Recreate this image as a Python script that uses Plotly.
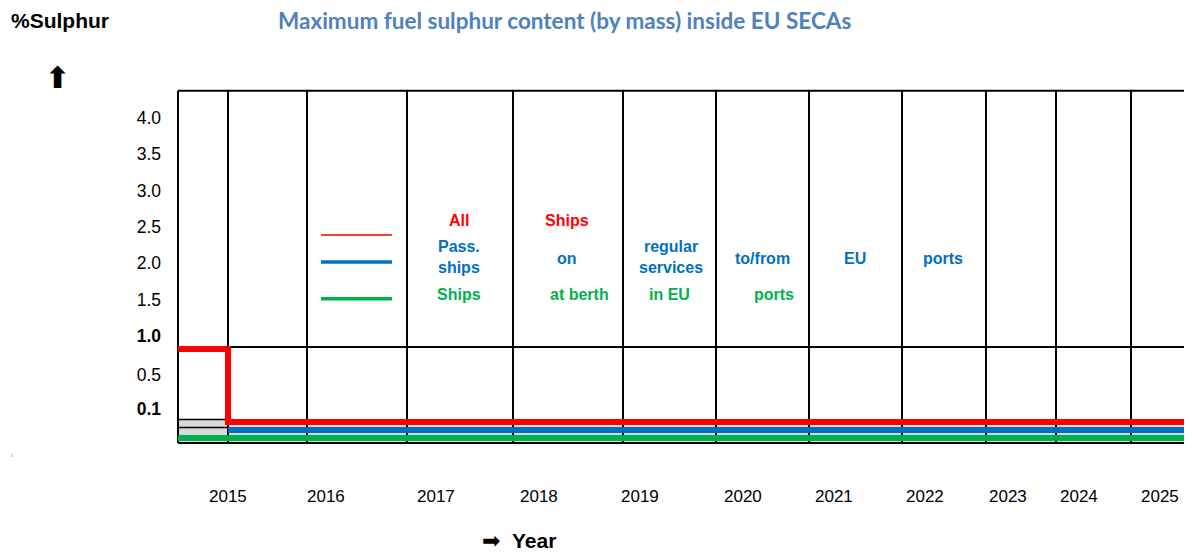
import plotly.graph_objects as go

# ---------------- data ----------------
# column boundaries of the schematic table (horizontal position units)
col_edges = [0, 50, 129, 229, 335, 445, 538, 631, 724, 808, 878, 953]
x_end = 1014
# year labels and their horizontal positions
years = ["2015", "2016", "2017", "2018", "2019", "2020", "2021", "2022", "2023", "2024", "2025"]
year_pos = [50, 148, 258, 361, 462, 565, 656, 747, 830, 901, 982]
# y tick labels (schematic scale) and their positions
y_tick_text = ["4.0", "3.5", "3.0", "2.5", "2.0", "1.5", "<b>1.0</b>", "0.5", "<b>0.1</b>"]
y_tick_pos = [4.0, 3.5, 3.0, 2.5, 2.0, 1.5, 1.0, 0.47, 0.0]
# table row lines
row_top = 4.375
row_mid = 0.85
row_bottom = -0.472
# sulphur limit series (schematic levels)
red_x = [0, 50, 50, 1014]
red_y = [0.82, 0.82, -0.183, -0.183]
blue_x = [50, 1014]
blue_y = [-0.294, -0.294]
green_x = [0, 1014]
green_y = [-0.404, -0.404]
# grey band behind the 0.1 % lines, and first column sub-rows
band_y = [-0.142, -0.459]
first_col_lines = [-0.149, -0.259]
# legend samples inside the table
legend_x = [143, 214]
legend_y = {"red": 2.39, "blue": 2.018, "green": 1.513}
# cell texts: (text, x, y, colour)
RED, BLUE, GREEN = "#FF0000", "#0070C0", "#00B050"
cell_texts = [
    ("All", 281, 2.596, RED),
    ("Ships", 389, 2.596, RED),
    ("Pass.<br>ships", 281, 2.087, BLUE),
    ("on", 389, 2.073, BLUE),
    ("regular<br>services", 493, 2.087, BLUE),
    ("to/from", 584, 2.073, BLUE),
    ("EU", 677, 2.073, BLUE),
    ("ports", 765, 2.073, BLUE),
    ("Ships", 281, 1.578, GREEN),
    ("at berth", 401, 1.578, GREEN),
    ("in EU", 491, 1.578, GREEN),
    ("ports", 596, 1.578, GREEN),
]

FONT = "Liberation Sans, Arial, sans-serif"

fig = go.Figure()

# grey band
fig.add_trace(go.Scatter(x=[0, x_end, x_end, 0, 0],
                         y=[band_y[0], band_y[0], band_y[1], band_y[1], band_y[0]],
                         fill="toself", fillcolor="#D9D9D9", mode="lines",
                         line=dict(width=0), hoverinfo="skip", showlegend=False))

# table grid
def line(xs, ys, color="black", width=2):
    fig.add_trace(go.Scatter(x=xs, y=ys, mode="lines", line=dict(color=color, width=width),
                             hoverinfo="skip", showlegend=False))

for yv in [row_top, row_mid, row_bottom]:
    line([0, x_end], [yv, yv])
for xv in col_edges:
    line([xv, xv], [row_bottom, row_top])
for yv in first_col_lines:
    line([0, col_edges[1]], [yv, yv], width=1.5)

# series
line(green_x, green_y, GREEN, 6)
line(blue_x, blue_y, BLUE, 6)
fig.add_trace(go.Scatter(x=red_x, y=red_y, mode="lines",
                         line=dict(color=RED, width=6, shape="linear"),
                         hoverinfo="skip", showlegend=False))

# legend samples
line(legend_x, [legend_y["red"]] * 2, RED, 1.5)
line(legend_x, [legend_y["blue"]] * 2, BLUE, 3.5)
line(legend_x, [legend_y["green"]] * 2, GREEN, 3.5)

annotations = []
for t, xv, yv, c in cell_texts:
    annotations.append(dict(text="<b>%s</b>" % t, x=xv, y=yv, xref="x", yref="y",
                            showarrow=False, font=dict(family=FONT, size=16, color=c),
                            xanchor="center", yanchor="middle"))

# page-pixel positioned texts (page has an 8px body margin)
OFF = 8
W, H = 1192 - OFF, 555 - OFF
L, R, T, B = 178 - 2 - OFF, 0, 88 - OFF, H - (445 - OFF)

def paper_ann(text, px, py, font, xanchor="center"):
    return dict(text=text, x=(px - OFF - L) / (W - L - R),
                y=1 - (py - OFF - T) / (H - T - B), xref="paper", yref="paper",
                showarrow=False, font=font, xanchor=xanchor, yanchor="middle")

for yr, xp in zip(years, year_pos):
    annotations.append(dict(text=yr, x=xp, xref="x", yref="paper",
                            y=1 - (496 - OFF - T) / (H - T - B),
                            showarrow=False, font=dict(family=FONT, size=17, color="black"),
                            xanchor="center", yanchor="middle"))

annotations += [
    paper_ann("<b>%Sulphur</b>", 9, 20, dict(family=FONT, size=21, color="black"), "left"),
    paper_ann("<b>Maximum fuel sulphur content (by mass) inside EU SECAs</b>", 564, 20,
              dict(family="Lato, sans-serif", size=22.5, color="#4F81BD")),
    paper_ann("<b>⬆</b>", 57, 77, dict(family="DejaVu Sans", size=30, color="black")),
    paper_ann("➡", 491, 540, dict(family="DejaVu Sans", size=22, color="black")),
    paper_ann("<b>Year</b>", 510, 540, dict(family=FONT, size=21, color="black"), "left"),
    paper_ann("t.", 9, 455, dict(family=FONT, size=5, color="#888888"), "left"),
]

fig.update_layout(
    width=W, height=H,
    margin=dict(l=L, r=R, t=T, b=B, pad=0),
    paper_bgcolor="white", plot_bgcolor="white",
    showlegend=False,
    annotations=annotations,
    xaxis=dict(range=[-2, x_end], showgrid=False, zeroline=False, showticklabels=False,
               ticks="", fixedrange=True),
    yaxis=dict(range=[-0.5, 4.413], showgrid=False, zeroline=False,
               tickvals=y_tick_pos, ticktext=y_tick_text, ticks="",
               tickfont=dict(family=FONT, size=17.5, color="black"),
               ticklabelstandoff=14, fixedrange=True),
)

fig.write_html("out.html")
